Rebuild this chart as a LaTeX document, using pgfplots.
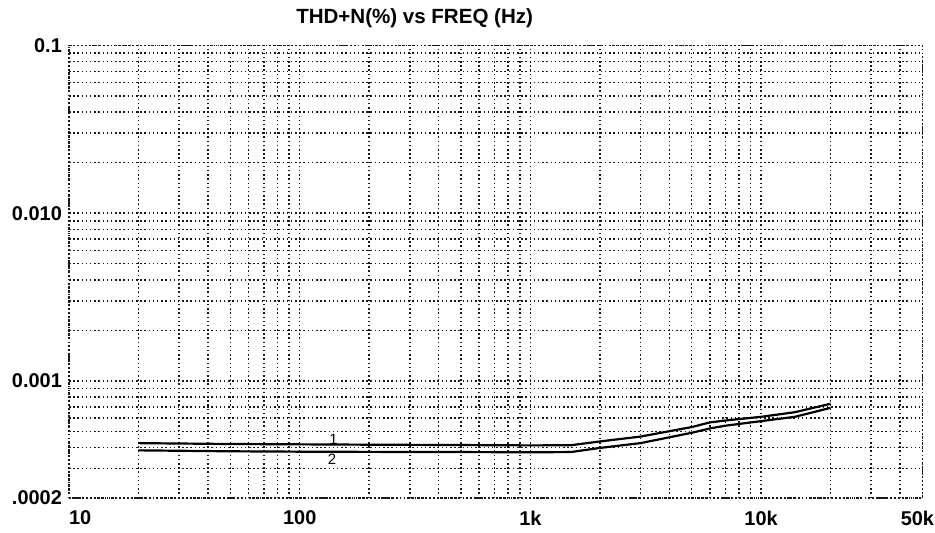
\documentclass[border=0pt]{standalone}
\usepackage{pgfplots}
\pgfplotsset{compat=1.18}
\usepackage{fontspec}
\setmainfont{Liberation Sans}

\begin{document}
\begin{tikzpicture}
\begin{loglogaxis}[
    scale only axis,
    width=428pt,
    height=227pt,
    xmin=10, xmax=50000,
    ymin=0.0002, ymax=0.1,
    xtick={10,100,1000,10000},
    xticklabels={\makebox[0pt][l]{10},100,1k,10k},
    extra x ticks={50000},
    extra x tick labels={50k},
    extra x tick style={xticklabel style={xshift=-2.5pt, inner xsep=0.5pt}},
    ytick={0.0002,0.001,0.01,0.1},
    yticklabels={.0002,0.001,0.010,0.1},
    minor xtick={20,30,40,50,60,70,80,90,
                 200,300,400,500,600,700,800,900,
                 2000,3000,4000,5000,6000,7000,8000,9000,
                 20000,30000,40000},
    minor ytick={0.0003,0.0004,0.0005,0.0006,0.0007,0.0008,0.0009,
                 0.002,0.003,0.004,0.005,0.006,0.007,0.008,0.009,
                 0.02,0.03,0.04,0.05,0.06,0.07,0.08,0.09},
    major tick length=0pt,
    minor tick length=0pt,
    tick label style={font=\fontsize{10}{12}\selectfont\bfseries},
    xticklabel style={yshift=-3pt},
    yticklabel style={inner xsep=6pt, xshift=2.6pt},
    grid=both,
    major grid style={black!90, line width=0.75pt, dash pattern=on 0.75pt off 1.35pt},
    minor grid style={black!90, line width=0.75pt, dash pattern=on 0.75pt off 1.35pt},
    axis line style={black!90, line width=0.75pt, dash pattern=on 0.75pt off 1.1pt},
    title={THD+N(\%) vs FREQ (Hz)},
    title style={at={(0.405,1)}, anchor=south, yshift=-2pt, inner ysep=4.5pt,
                 font=\fontsize{10.3}{12}\selectfont\bfseries},
]
% curve 1
\addplot[black, line width=1.1pt, no marks] coordinates {
    (20,0.000425) (50,0.00042) (100,0.000418) (200,0.000416) (500,0.000414)
    (1000,0.000412) (1500,0.000413) (2000,0.000435) (3000,0.000465)
    (5000,0.00053) (6000,0.000565) (7000,0.00058) (10000,0.00061)
    (14000,0.00065) (20000,0.00073)
};
% curve 2
\addplot[black, line width=1.1pt, no marks] coordinates {
    (20,0.000385) (50,0.00038) (100,0.000378) (200,0.000377) (500,0.000376)
    (1000,0.000375) (1500,0.000376) (2000,0.000398) (3000,0.000425)
    (5000,0.00049) (6000,0.00052) (7000,0.00054) (10000,0.000575)
    (14000,0.00061) (20000,0.00069)
};
\node[font=\fontsize{7.5}{9}\selectfont, inner sep=0pt] at (axis cs:140,0.000445) {1};
\node[font=\fontsize{7.5}{9}\selectfont, inner sep=0pt] at (axis cs:138,0.00034) {2};
\end{loglogaxis}
\end{tikzpicture}
\end{document}
